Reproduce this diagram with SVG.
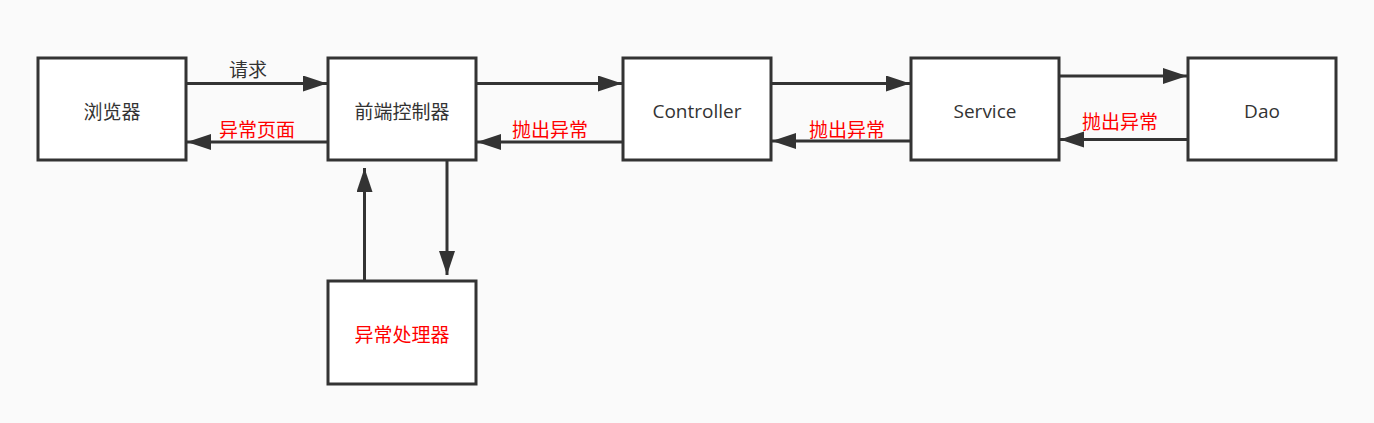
<svg xmlns="http://www.w3.org/2000/svg" width="1374" height="423" viewBox="0 0 1374 423">
<defs>
<style>
.node rect{fill:#ffffff;stroke:#333333;stroke-width:3}
.lbl{font-family:"Open Sans","Noto Sans CJK SC",sans-serif;font-size:19px;fill:#333333;text-anchor:middle}
.red{fill:#ff0000}
.edge line{stroke:#333333;stroke-width:3}
</style>
<marker id="ah" markerUnits="userSpaceOnUse" markerWidth="25" markerHeight="17" refX="24" refY="8" orient="auto">
<path d="M0,0 L24,8 L0,16 Z" fill="#333333"/>
</marker>
</defs>
<rect x="0" y="0" width="1374" height="423" fill="#fafafa"/>
<g id="browser" class="node"><rect x="38" y="58" width="148" height="102"/><text class="lbl" x="112" y="119">浏览器</text></g>
<g id="frontController" class="node"><rect x="328" y="58" width="148" height="102"/><text class="lbl" x="402" y="119">前端控制器</text></g>
<g id="controller" class="node"><rect x="623" y="58" width="148" height="102"/><text class="lbl" x="697" y="118">Controller</text></g>
<g id="service" class="node"><rect x="911" y="58" width="148" height="102"/><text class="lbl" x="985" y="118">Service</text></g>
<g id="dao" class="node"><rect x="1188" y="58" width="148" height="102"/><text class="lbl" x="1262" y="118">Dao</text></g>
<g id="exceptionHandler" class="node"><rect x="328" y="281" width="148" height="103"/><text class="lbl red" x="402" y="342">异常处理器</text></g>
<g id="connectors" class="edge">
<line x1="187" y1="83.5" x2="327" y2="83.5" marker-end="url(#ah)"/>
<line x1="327" y1="142" x2="187" y2="142" marker-end="url(#ah)"/>
<line x1="477" y1="83.5" x2="622" y2="83.5" marker-end="url(#ah)"/>
<line x1="622" y1="142" x2="477" y2="142" marker-end="url(#ah)"/>
<line x1="772" y1="83.5" x2="910" y2="83.5" marker-end="url(#ah)"/>
<line x1="910" y1="141" x2="772" y2="141" marker-end="url(#ah)"/>
<line x1="1060" y1="76" x2="1187" y2="76" marker-end="url(#ah)"/>
<line x1="1187" y1="139.5" x2="1060" y2="139.5" marker-end="url(#ah)"/>
<line x1="447" y1="161" x2="447" y2="275" marker-end="url(#ah)"/>
<line x1="364.5" y1="280" x2="364.5" y2="168" marker-end="url(#ah)"/>
<text class="lbl" x="248" y="77">请求</text>
<text class="lbl red" x="257" y="137">异常页面</text>
<text class="lbl red" x="550" y="137">抛出异常</text>
<text class="lbl red" x="847" y="137">抛出异常</text>
<text class="lbl red" x="1120" y="129">抛出异常</text>
</g>
</svg>
